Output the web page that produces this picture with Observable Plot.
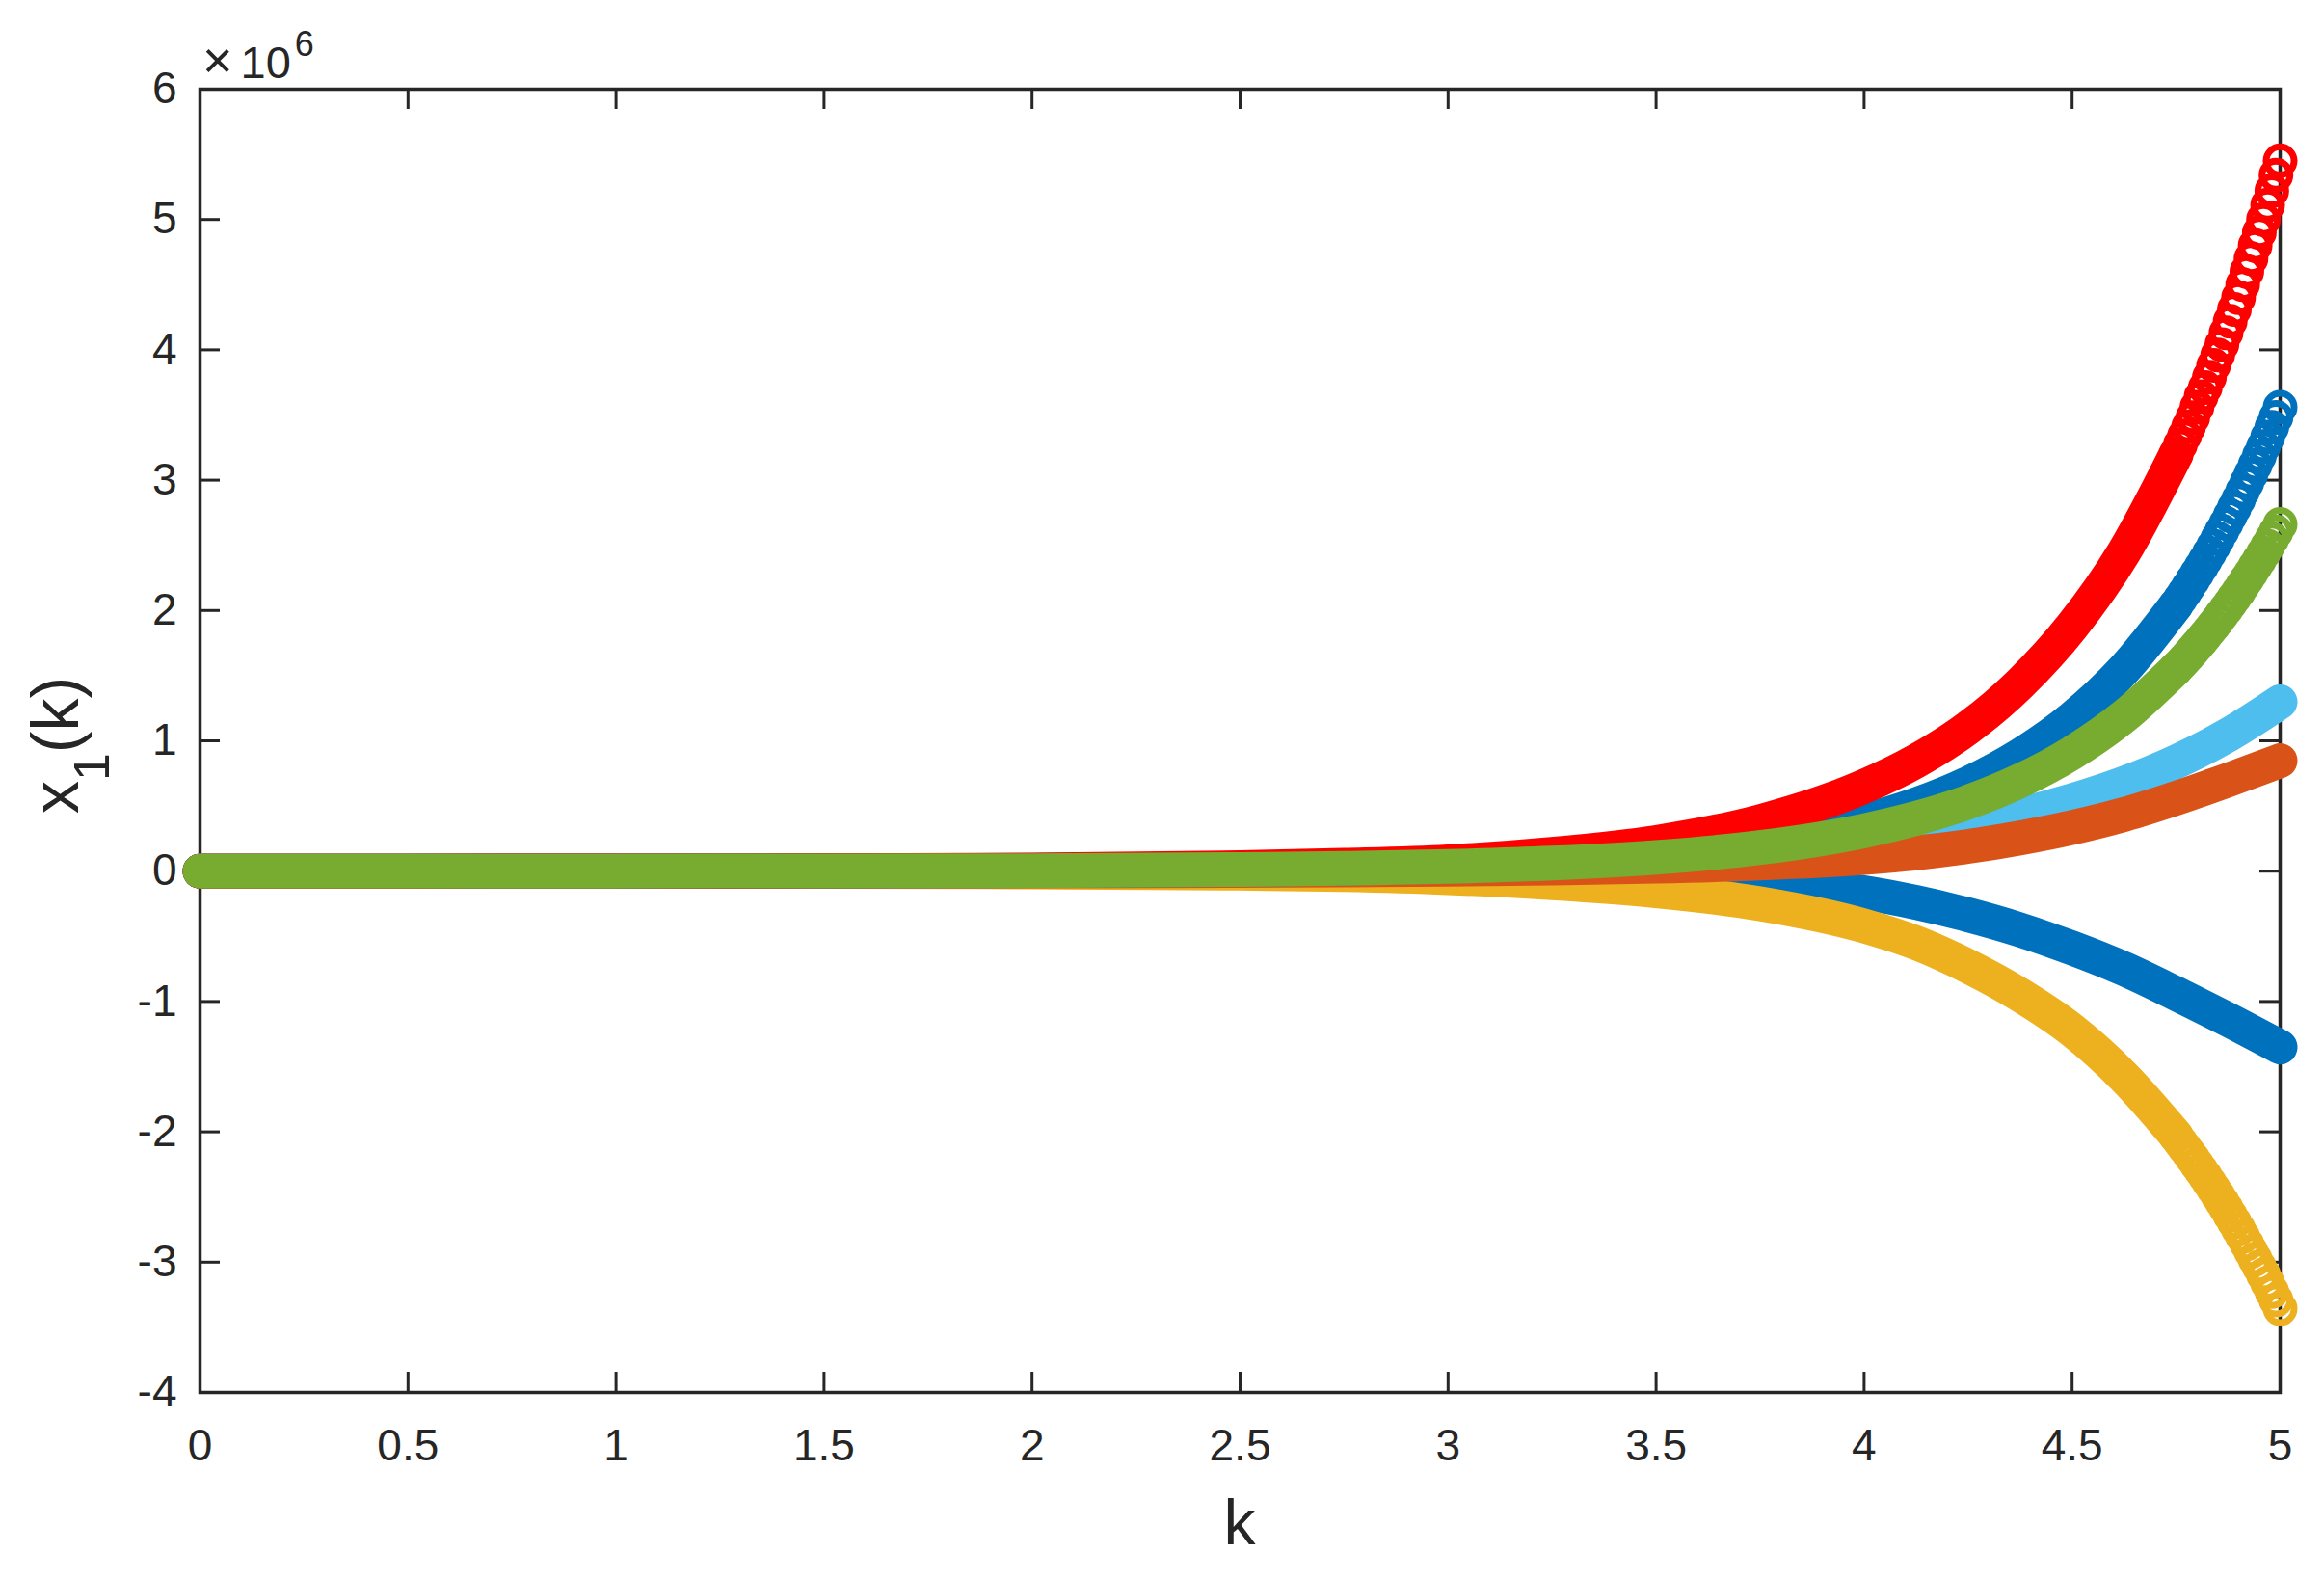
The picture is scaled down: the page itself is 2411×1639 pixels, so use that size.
<!DOCTYPE html>
<html><head><meta charset="utf-8">
<script src="https://cdn.jsdelivr.net/npm/d3@7"></script>
<script src="https://cdn.jsdelivr.net/npm/@observablehq/plot@0.6"></script>
<style>
html,body{margin:0;padding:0;background:#fff;}
#chart svg{display:block;}
</style></head><body><div id="chart"></div>
<script>
// ---- data (values in units of 10^6) ----
const kGrid = [0, 0.5, 1, 1.5, 2, 2.5, 2.75, 3, 3.25, 3.5, 3.75, 4, 4.125, 4.25, 4.375, 4.5, 4.625, 4.75, 4.875, 5];
const red       = [0.0001, 0.0004, 0.0011, 0.0031, 0.0091, 0.0265, 0.045, 0.072, 0.13, 0.22, 0.38, 0.65, 0.845, 1.10, 1.44, 1.88, 2.45, 3.20, 4.18, 5.45];
const blueUp    = [0.0001, 0.0002, 0.0005, 0.0015, 0.0046, 0.0139, 0.024, 0.042, 0.073, 0.127, 0.222, 0.387, 0.51, 0.673, 0.889, 1.173, 1.549, 2.043, 2.697, 3.56];
const green     = [0.0001, 0.0002, 0.0005, 0.0014, 0.0042, 0.0123, 0.021, 0.036, 0.062, 0.106, 0.181, 0.31, 0.405, 0.53, 0.694, 0.908, 1.188, 1.554, 2.033, 2.66];
const lightBlue = [0.0002, 0.0005, 0.0012, 0.0028, 0.0068, 0.016, 0.025, 0.039, 0.061, 0.094, 0.146, 0.226, 0.281, 0.35, 0.435, 0.542, 0.674, 0.839, 1.045, 1.30];
const orange    = [0, 0.00004, 0.0003, 0.0008, 0.002, 0.0057, 0.0093, 0.015, 0.024, 0.038, 0.062, 0.105, 0.14, 0.19, 0.255, 0.335, 0.435, 0.56, 0.70, 0.848];
const blueDown  = [0, -0.0001, -0.0003, -0.0008, -0.002, -0.006, -0.01, -0.018, -0.032, -0.05, -0.095, -0.165, -0.24, -0.335, -0.45, -0.59, -0.75, -0.94, -1.14, -1.35];
const yellow    = [-0.0001, -0.0003, -0.0008, -0.002, -0.0055, -0.016, -0.027, -0.05, -0.09, -0.15, -0.25, -0.42, -0.55, -0.73, -0.95, -1.22, -1.58, -2.03, -2.61, -3.356];

// last samples, where the individual circle markers separate
const kTail = [4.75, 4.76, 4.77, 4.78, 4.79, 4.80, 4.81, 4.82, 4.83, 4.84, 4.85, 4.86, 4.87, 4.88, 4.89, 4.90, 4.91, 4.92, 4.93, 4.94, 4.95, 4.96, 4.97, 4.98, 4.99, 5.00];
const redTail    = [3.20, 3.27, 3.34, 3.41, 3.48, 3.56, 3.64, 3.71, 3.79, 3.88, 3.96, 4.04, 4.13, 4.22, 4.31, 4.40, 4.50, 4.60, 4.70, 4.80, 4.90, 5.00, 5.11, 5.22, 5.34, 5.45];
const blueUpTail = [2.043, 2.089, 2.136, 2.184, 2.233, 2.283, 2.334, 2.386, 2.440, 2.495, 2.551, 2.608, 2.667, 2.727, 2.788, 2.851, 2.915, 2.980, 3.047, 3.116, 3.186, 3.257, 3.330, 3.405, 3.482, 3.56];
const greenTail  = [1.554, 1.587, 1.622, 1.657, 1.693, 1.730, 1.768, 1.806, 1.846, 1.886, 1.927, 1.969, 2.011, 2.055, 2.100, 2.145, 2.192, 2.240, 2.288, 2.338, 2.389, 2.441, 2.494, 2.548, 2.603, 2.66];
const yellowTail = [-2.035, -2.077, -2.119, -2.161, -2.205, -2.250, -2.295, -2.341, -2.389, -2.437, -2.486, -2.536, -2.588, -2.640, -2.693, -2.748, -2.803, -2.860, -2.918, -2.977, -3.037, -3.098, -3.161, -3.225, -3.290, -3.356];

const xTicks = [0, 0.5, 1, 1.5, 2, 2.5, 3, 3.5, 4, 4.5, 5];
const yTicks = [-4, -3, -2, -1, 0, 1, 2, 3, 4, 5, 6];
const xTickLabels = ["0", "0.5", "1", "1.5", "2", "2.5", "3", "3.5", "4", "4.5", "5"];
const yTickLabels = ["-4", "-3", "-2", "-1", "0", "1", "2", "3", "4", "5", "6"];

// ---- layout ----
const W = 2411, H = 1639;
const mL = 207, mR = 46, mT = 92, mB = 195;
const pw = W - mL - mR, ph = H - mT - mB;
const tickLen = 21;
const axisColor = "#262626";
const fontFam = "'Liberation Sans', Arial, Helvetica, sans-serif";

// drawing order: bottom -> top
const series = [
  {values: blueDown,  color: "#0072BD", tail: null},
  {values: yellow,    color: "#EDB120", tail: yellowTail},
  {values: lightBlue, color: "#4DBEEE", tail: null},
  {values: orange,    color: "#D95319", tail: null},
  {values: blueUp,    color: "#0072BD", tail: blueUpTail},
  {values: red,       color: "#FF0000", tail: redTail},
  {values: green,     color: "#77AC30", tail: greenTail}
];
const rows = (ks, vs) => ks.map((k, i) => ({k, v: vs[i]}));

const marks = [
  Plot.tickX(xTicks, {x: d => d, stroke: axisColor, strokeWidth: 3, insetTop: ph - tickLen}),
  Plot.tickX(xTicks, {x: d => d, stroke: axisColor, strokeWidth: 3, insetBottom: ph - tickLen}),
  Plot.tickY(yTicks, {y: d => d, stroke: axisColor, strokeWidth: 3, insetRight: pw - tickLen}),
  Plot.tickY(yTicks, {y: d => d, stroke: axisColor, strokeWidth: 3, insetLeft: pw - tickLen}),
  Plot.frame({stroke: axisColor, strokeWidth: 3.5}),
  Plot.axisX(xTicks, {tickSize: 0, tickPadding: 38, tickFormat: d => xTickLabels[xTicks.indexOf(d)], fontSize: 46, label: null}),
  Plot.axisY(yTicks, {tickSize: 0, tickPadding: 24, tickFormat: d => yTickLabels[yTicks.indexOf(d)], fontSize: 46, label: null})
];
for (const s of series) {
  let band = rows(kGrid, s.values);
  if (s.tail) band = band.filter(d => d.k <= kTail[0]);
  marks.push(Plot.line(band, {x: "k", y: "v", stroke: s.color, strokeWidth: 36,
    strokeLinecap: "round", strokeLinejoin: "round", curve: "monotone-x"}));
  if (s.tail) {
    marks.push(Plot.dot(rows(kTail, s.tail), {x: "k", y: "v", r: 14.5, stroke: s.color, strokeWidth: 7, fill: "none"}));
  }
}

const chart = Plot.plot({
  width: W, height: H,
  marginLeft: mL, marginRight: mR, marginTop: mT, marginBottom: mB,
  x: {domain: [0, 5]},
  y: {domain: [-4, 6]},
  style: {fontFamily: fontFam, color: axisColor, background: "#fff", overflow: "visible"},
  marks
});
document.getElementById("chart").appendChild(chart);

const svg = d3.select(chart);
// x-axis label
svg.append("text")
  .attr("x", mL + pw / 2).attr("y", H - mB + 158)
  .attr("text-anchor", "middle")
  .attr("fill", axisColor)
  .style("font-family", fontFam).style("font-size", "66px")
  .text("k");
// y-axis label x_1(k)
const yl = svg.append("text")
  .attr("transform", `translate(81, ${mT + ph / 2 + 5}) rotate(-90)`)
  .attr("text-anchor", "middle")
  .attr("fill", axisColor)
  .style("font-family", fontFam).style("font-size", "68px");
yl.append("tspan").text("x");
yl.append("tspan").attr("dy", 32).style("font-size", "52px").text("1");
yl.append("tspan").attr("dy", -32).text("(k)");
// exponent label ×10^6
const ex = svg.append("text")
  .attr("x", mL + 3).attr("y", mT - 11)
  .attr("text-anchor", "start")
  .attr("fill", axisColor)
  .style("font-family", fontFam).style("font-size", "47px");
ex.append("tspan").style("font-size", "54px").text("×");
ex.append("tspan").attr("dx", 8).text("10");
ex.append("tspan").attr("dx", 4).attr("dy", -23).style("font-size", "36px").text("6");
</script>
</body></html>
